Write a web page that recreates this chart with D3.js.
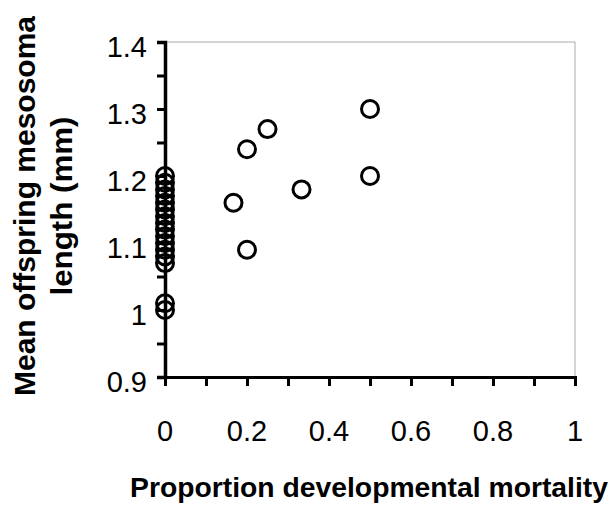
<!DOCTYPE html>
<html><head><meta charset="utf-8">
<script src="https://cdn.jsdelivr.net/npm/d3@7"></script>
<style>body{margin:0;background:#fff}svg{display:block}</style>
</head><body><svg id="c" width="613" height="508"></svg>
<script>
const mortality = [0,0,0,0,0,0,0,0,0,0,0,0,0,0,0,0, 0.167,0.2,0.2,0.25,0.333,0.5,0.5];
const lengthMm  = [1.20,1.19,1.18,1.17,1.16,1.15,1.14,1.13,1.12,1.11,1.10,1.09,1.08,1.07,1.01,1.00, 1.16,1.24,1.09,1.27,1.18,1.30,1.20];
const xTicks = [0,0.2,0.4,0.6,0.8,1];
const xMinor = [0,0.1,0.2,0.3,0.4,0.5,0.6,0.7,0.8,0.9,1];
const yTicks = [0.9,1.0,1.1,1.2,1.3,1.4];
const yMinor = [0.9,0.95,1.0,1.05,1.1,1.15,1.2,1.25,1.3,1.35,1.4];

const svg = d3.select('#c');
const L=165,R=575,T=42,B=377;
const x = d3.scaleLinear().domain([0,1]).range([L,R]);
const y = d3.scaleLinear().domain([0.9,1.4]).range([B,T]);
const font = 'Arial, "Liberation Sans", sans-serif';

// faint frame
svg.append('path').attr('d',`M${L},${T}H${R}V${B}`).attr('fill','none').attr('stroke','#aaa').attr('stroke-width',1);

// x axis
const xa = svg.append('g').attr('transform',`translate(0,${B})`)
  .call(d3.axisBottom(x).tickValues(xMinor).tickSize(9).tickFormat(''));
xa.select('.domain').attr('stroke','#000').attr('stroke-width',3);
xa.selectAll('.tick line').attr('stroke-width',3);
svg.append('g').selectAll('text').data(xTicks).join('text')
  .attr('x',d=>x(d)).attr('y',441).attr('text-anchor','middle')
  .attr('font-family',font).attr('font-size',29).text(d=>d3.format('')(d));

// y axis
const ya = svg.append('g').attr('transform',`translate(${L},0)`)
  .call(d3.axisLeft(y).tickValues(yMinor).tickSize(8).tickFormat(''));
ya.select('.domain').attr('stroke','#000').attr('stroke-width',3.5);
ya.selectAll('.tick line').attr('stroke-width',3);
svg.append('g').selectAll('text').data(yTicks).join('text')
  .attr('x',147).attr('y',d=>y(d)+15).attr('text-anchor','end')
  .attr('font-family',font).attr('font-size',29).text(d=>d3.format('')(+d.toFixed(1)));

// points
svg.append('g').selectAll('circle').data(mortality.map((m,i)=>[m,lengthMm[i]])).join('circle')
  .attr('cx',d=>x(d[0])).attr('cy',d=>y(d[1])).attr('r',8.5)
  .attr('fill','none').attr('stroke','#000').attr('stroke-width',3);

// titles
svg.append('text').attr('x',369).attr('y',497).attr('text-anchor','middle')
  .attr('font-family',font).attr('font-weight','bold').attr('font-size',28)
  .attr('textLength',478).attr('lengthAdjust','spacingAndGlyphs')
  .text('Proportion developmental mortality');
const yt = svg.append('text').attr('transform','translate(0,206) rotate(-90)')
  .attr('text-anchor','middle').attr('font-family',font).attr('font-weight','bold').attr('font-size',29);
yt.append('tspan').attr('x',0).attr('y',35).attr('textLength',380).attr('lengthAdjust','spacingAndGlyphs').text('Mean offspring mesosoma');
yt.append('tspan').attr('x',0).attr('y',72).attr('textLength',179).attr('lengthAdjust','spacingAndGlyphs').text('length (mm)');
</script></body></html>
